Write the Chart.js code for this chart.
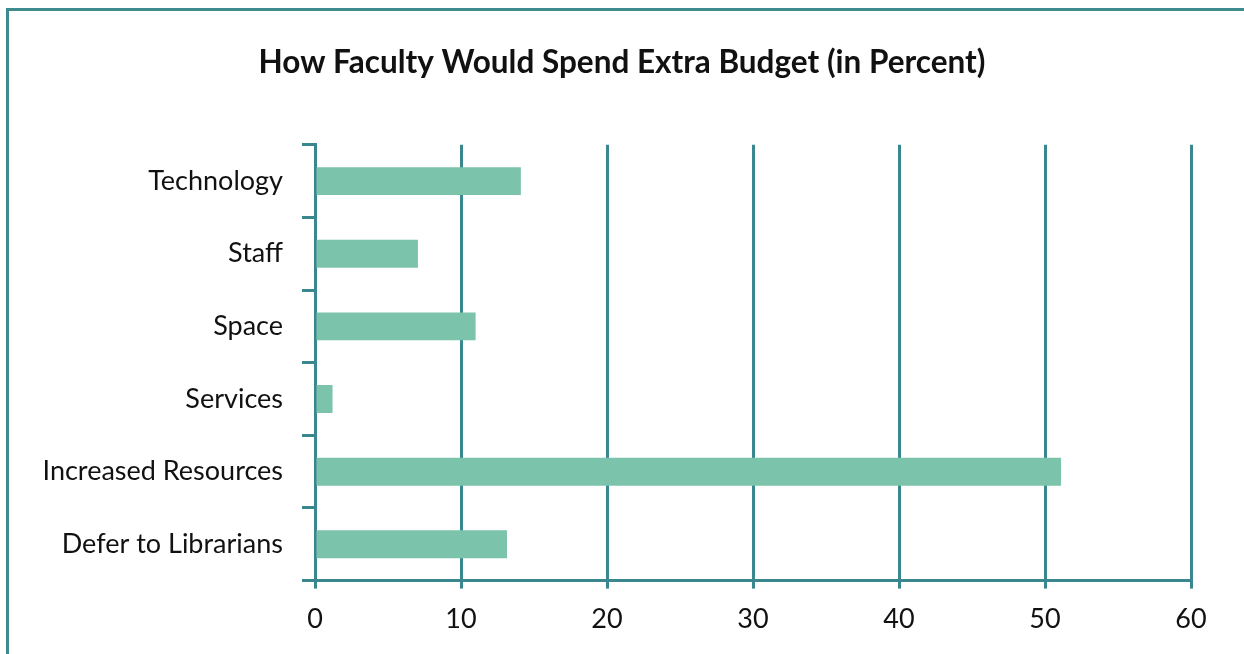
<!DOCTYPE html>
<html>
<head>
<meta charset="utf-8">
<script src="https://cdn.jsdelivr.net/npm/chart.js@4.4.0/dist/chart.umd.min.js"></script>
<style>
  html, body { margin: 0; padding: 0; background: #fff; }
  #wrap { position: relative; width: 1244px; height: 654px; overflow: hidden; }
  #frame {
    position: absolute; left: 6px; top: 8px; width: 1300px; height: 700px;
    border-left: 3px solid #3d8a8f; border-top: 3px solid #3d8a8f;
  }
  canvas { position: absolute; left: 0; top: 0; }
</style>
</head>
<body>
<div id="wrap">
  <div id="frame"></div>
  <canvas id="budgetChart" width="1244" height="654"></canvas>
</div>
<script>
// data
const categories = ['Technology', 'Staff', 'Space', 'Services', 'Increased Resources', 'Defer to Librarians'];
const percentValues = [14.1, 7.05, 11.0, 1.2, 51.1, 13.15];
const xTicks = [0, 10, 20, 30, 40, 50, 60];

const teal = '#3b878f';
const barGreen = '#7cc3ab';

document.addEventListener('DOMContentLoaded', function () {
  renderBarChart();
});

function renderBarChart() {
  const ctx = document.getElementById('budgetChart').getContext('2d');

  new Chart(ctx, {
    type: 'bar',
    data: {
      labels: categories,
      datasets: [{
        data: percentValues,
        backgroundColor: barGreen,
        borderWidth: 0,
        barPercentage: 0.385,
        categoryPercentage: 1.0
      }]
    },
    options: {
      indexAxis: 'y',
      responsive: false,
      animation: false,
      layout: {
        padding: { left: 0, right: 0, top: 0, bottom: 5 }
      },
      plugins: {
        legend: { display: false },
        tooltip: { enabled: false },
        title: {
          display: true,
          text: 'How Faculty Would Spend Extra Budget (in Percent)',
          color: '#111',
          font: { family: 'Lato', size: 31.5, weight: 'bold' },
          padding: { top: 44, bottom: 63 }
        }
      },
      scales: {
        x: {
          min: 0,
          max: 60,
          afterBuildTicks: function (axis) {
            axis.ticks = xTicks.map(v => ({ value: v }));
          },
          border: { display: true, color: teal, width: 3 },
          grid: {
            color: teal,
            lineWidth: 3,
            drawOnChartArea: true,
            drawTicks: true,
            tickLength: 8
          },
          ticks: {
            color: '#111',
            padding: 14,
            font: { family: 'Lato', size: 27 }
          }
        },
        y: {
          afterFit: function (axis) {
            axis.width = 315;  // left edge of the plot in the reference
          },
          border: { display: true, color: teal, width: 3 },
          grid: {
            color: teal,
            lineWidth: 3,
            drawOnChartArea: false,
            drawTicks: true,
            tickLength: 13,
            offset: true
          },
          ticks: {
            color: '#111',
            padding: 19,
            font: { family: 'Lato', size: 27 }
          }
        },
        // empty spacer on the right so the title stays centred on the page
        spacer: {
          type: 'linear',
          position: 'right',
          afterFit: function (axis) {
            axis.width = 53;
          },
          border: { display: false },
          grid: { display: false },
          ticks: { display: false }
        }
      }
    }
  });
}
</script>
</body>
</html>
